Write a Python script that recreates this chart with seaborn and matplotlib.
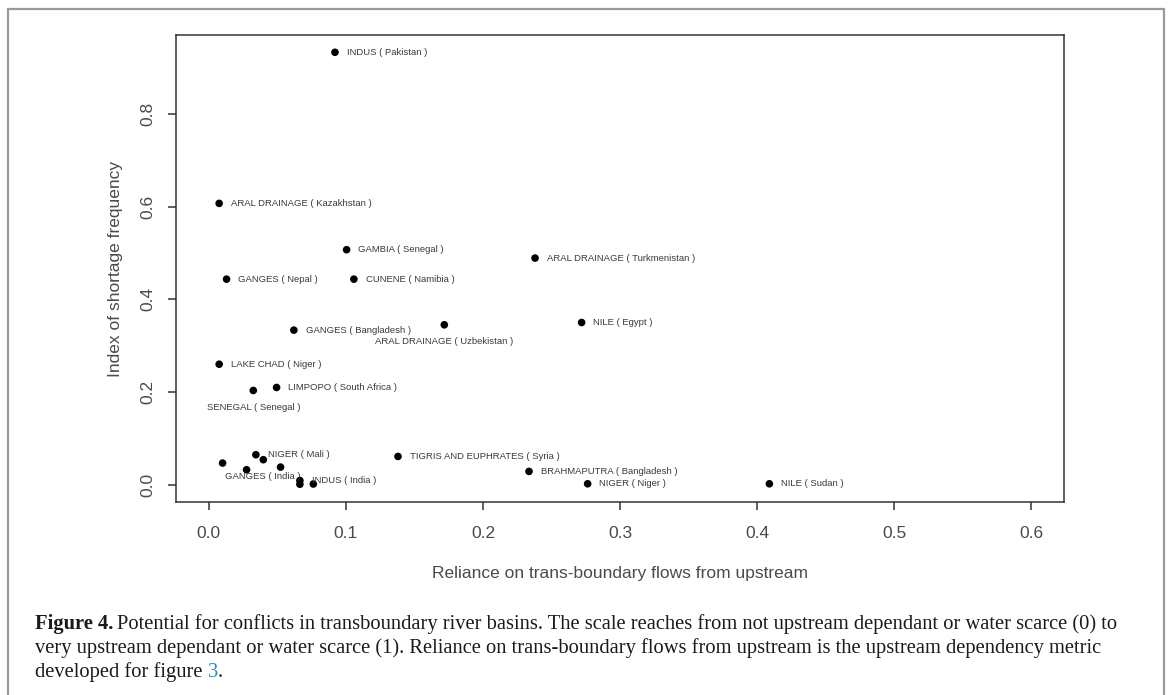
import matplotlib
matplotlib.use("Agg")
import matplotlib.pyplot as plt
import seaborn as sns
import pandas as pd
from matplotlib.patches import Rectangle

# values
basins = ["INDUS", "ARAL DRAINAGE", "GAMBIA", "ARAL DRAINAGE", "GANGES", "CUNENE",
          "GANGES", "ARAL DRAINAGE", "NILE", "LAKE CHAD", "LIMPOPO", "SENEGAL",
          "NIGER", "GANGES", "", "", "", "INDUS", "", "",
          "TIGRIS AND EUPHRATES", "BRAHMAPUTRA", "NIGER", "NILE"]
countries = ["Pakistan", "Kazakhstan", "Senegal", "Turkmenistan", "Nepal", "Namibia",
             "Bangladesh", "Uzbekistan", "Egypt", "Niger", "South Africa", "Senegal",
             "Mali", "India", "", "", "", "India", "", "",
             "Syria", "Bangladesh", "Niger", "Sudan"]
reliance = [0.092, 0.0075, 0.1005, 0.238, 0.0129, 0.1058,
            0.062, 0.1718, 0.272, 0.0075, 0.0494, 0.0324,
            0.0343, 0.0397, 0.010, 0.0275, 0.0523, 0.0664, 0.0664, 0.0762,
            0.138, 0.2336, 0.2764, 0.409]
shortage = [0.933, 0.607, 0.507, 0.489, 0.4435, 0.4435,
            0.3335, 0.345, 0.350, 0.260, 0.2098, 0.2033,
            0.0647, 0.054, 0.0467, 0.0323, 0.038, 0.009, 0.001, 0.0015,
            0.061, 0.0287, 0.002, 0.002]
# label side: "r" = right of point, "b" = below point
label_pos = ["r", "r", "r", "r", "r", "r",
             "r", "b", "r", "r", "r", "b",
             "r", "b", "r", "r", "r", "r", "r", "r",
             "r", "r", "r", "r"]

df = pd.DataFrame({"basin": basins, "country": countries, "x": reliance,
                   "y": shortage, "pos": label_pos})

sns.set_style("ticks")
plt.rcParams["font.family"] = ["Liberation Sans", "DejaVu Sans"]

fig = plt.figure(figsize=(11.7, 6.95), dpi=100)
ax = fig.add_axes([176 / 1170, 1 - 502 / 695, (1064 - 176) / 1170, (502 - 35) / 695])

sns.scatterplot(data=df, x="x", y="y", color="black", s=30, edgecolor="none",
                linewidth=0, ax=ax, zorder=3)

for _, r in df.iterrows():
    if not r["basin"]:
        continue
    txt = f"{r['basin']} ( {r['country']} )"
    if r["pos"] == "r":
        ax.annotate(txt, (r["x"], r["y"]), xytext=(8.5, 0), textcoords="offset points",
                    ha="left", va="center", fontsize=6.8, color="#3a3a3a")
    else:
        ax.annotate(txt, (r["x"], r["y"]), xytext=(0, -12), textcoords="offset points",
                    ha="center", va="center", fontsize=6.8, color="#3a3a3a")

ax.set_xlim(-0.024, 0.624)
ax.set_ylim(-0.0373, 0.9703)
ax.set_xticks([0.0, 0.1, 0.2, 0.3, 0.4, 0.5, 0.6])
ax.set_yticks([0.0, 0.2, 0.4, 0.6, 0.8])
ax.set_xticklabels(["0.0", "0.1", "0.2", "0.3", "0.4", "0.5", "0.6"])
ax.set_yticklabels(["0.0", "0.2", "0.4", "0.6", "0.8"], rotation=90, va="center")
for s in ax.spines.values():
    s.set_visible(True)
    s.set_color("#333333")
    s.set_linewidth(1.1)
ax.tick_params(axis="both", length=5.5, width=1.1, color="#333333",
               labelsize=12.5, labelcolor="#4a4a4a", pad=9)
ax.tick_params(axis="x", pad=12)
ax.set_xlabel("Reliance on trans-boundary flows from upstream", fontsize=12.5,
              color="#4a4a4a", labelpad=17.5)
ax.set_ylabel("Index of shortage frequency", fontsize=12.5, color="#4a4a4a", labelpad=13)

# outer caption frame
fig.add_artist(Rectangle((8 / 1170, -0.05), (1164 - 8) / 1170, 1 - 9 / 695 + 0.05,
                         transform=fig.transFigure, fill=False, edgecolor="#9a9a9a",
                         linewidth=1.6))

# caption
cap_font = dict(family=["Liberation Serif", "DejaVu Serif"], fontsize=14.8, color="#1a1a1a")
renderer = fig.canvas.get_renderer()


def put(x_px, y_px, s, **kw):
    t = fig.text(x_px / 1170, 1 - y_px / 695, s, va="baseline", ha="left", **{**cap_font, **kw})
    bb = t.get_window_extent(renderer)
    return x_px + bb.width


x0 = 35
xx = put(x0, 629, "Figure 4.", weight="bold")
put(xx + 4, 629, "Potential for conflicts in transboundary river basins. The scale reaches from "
    "not upstream dependant or water scarce (0) to")
put(x0, 653, "very upstream dependant or water scarce (1). Reliance on trans-boundary flows "
    "from upstream is the upstream dependency metric")
xx = put(x0, 677, "developed for figure ")
xx = put(xx, 677, "3", color="#2b8cc4")
put(xx, 677, ".")

fig.savefig("out.png", dpi=100)
